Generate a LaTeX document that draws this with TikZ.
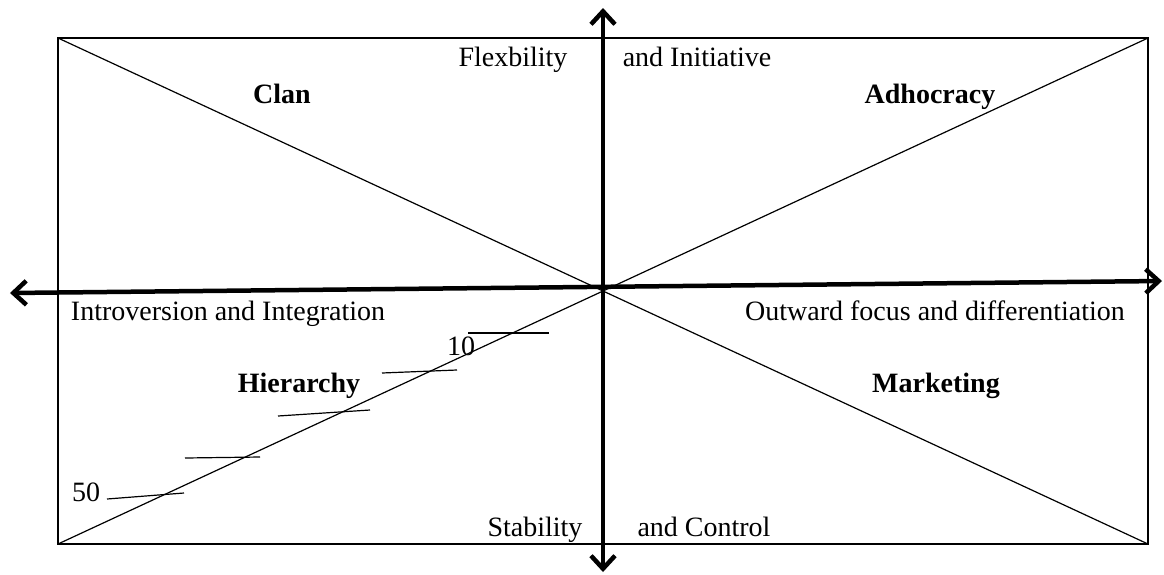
\documentclass[tikz,border=0pt]{standalone}
\usepackage{fontspec}
\setmainfont{Liberation Serif}
\usetikzlibrary{arrows.meta, positioning, calc}

\begin{document}
\begin{tikzpicture}[x=1pt, y=-1pt]
    % --- Style Definitions ---
    \tikzset{
        % Outer frame of the four cultures
        frame style/.style={
            draw=black,
            line width=1.4pt,
            minimum width=1090pt,
            minimum height=506pt,
            inner sep=0pt,
            outer sep=0pt
        },
        % Thin lines
        diag line/.style={draw=black, line width=1.2pt},
        tick line/.style={draw=black, line width=1.2pt},
        % Main axes
        axis arrow/.style={
            line width=4.5pt,
            black,
            {Straight Barb[length=13pt, width=24pt]}-{Straight Barb[length=13pt, width=24pt]}
        },
        % Text styling
        axis text/.style={font=\fontsize{28}{33}\selectfont, anchor=base, inner sep=0pt},
        culture text/.style={font=\fontsize{28}{33}\selectfont\bfseries, anchor=base, inner sep=0pt},
        tick text/.style={font=\fontsize{28}{33}\selectfont, anchor=base, inner sep=0pt}
    }

    \useasboundingbox (0,0) rectangle (1164,574);

    % ==========================================
    % FRAME AND DIAGONALS
    % ==========================================
    \node[frame style] (frame) at (603,291) {};
    \draw[diag line] (frame.north west) -- (frame.south east);
    \draw[diag line] (frame.south west) -- (frame.north east);

    % ==========================================
    % AXES
    % ==========================================
    \coordinate (left_end) at (10,293);
    \coordinate (right_end) at (1162,281);
    \coordinate (top_end) at (603,8);
    \coordinate (bottom_end) at (603,572);
    \draw[axis arrow] (left_end) -- (right_end);
    \draw[axis arrow] (bottom_end) -- (top_end);

    % ==========================================
    % SCALE TICKS ON THE HIERARCHY DIAGONAL
    % ==========================================
    \draw[tick line] (468,333) -- (549,333);
    \draw[tick line] (382,373) -- (457,370);
    \draw[tick line] (278,416) -- (370,410);
    \draw[tick line] (185,458) -- (260,457);
    \draw[tick line] (107,499) -- (184,493);

    \node[tick text] (tick_ten) at (461,355) {10};
    \node[tick text] (tick_fifty) at (86,501) {50};

    % ==========================================
    % AXIS LABELS
    % ==========================================
    \node[axis text] (flex) at (513,66) {Flexbility};
    \node[axis text] (initiative) at (697,66) {and Initiative};
    \node[axis text] (introversion) at (228,320) {Introversion and Integration};
    \node[axis text] (outward) at (935,320) {Outward focus and differentiation};
    \node[axis text] (stability) at (535,536) {Stability};
    \node[axis text] (control) at (704,536) {and Control};

    % ==========================================
    % CULTURE TYPES
    % ==========================================
    \node[culture text] (clan) at (282,103) {Clan};
    \node[culture text] (adhocracy) at (930,103) {Adhocracy};
    \node[culture text] (hierarchy) at (299,392) {Hierarchy};
    \node[culture text] (marketing) at (936,392) {Marketing};

\end{tikzpicture}
\end{document}
